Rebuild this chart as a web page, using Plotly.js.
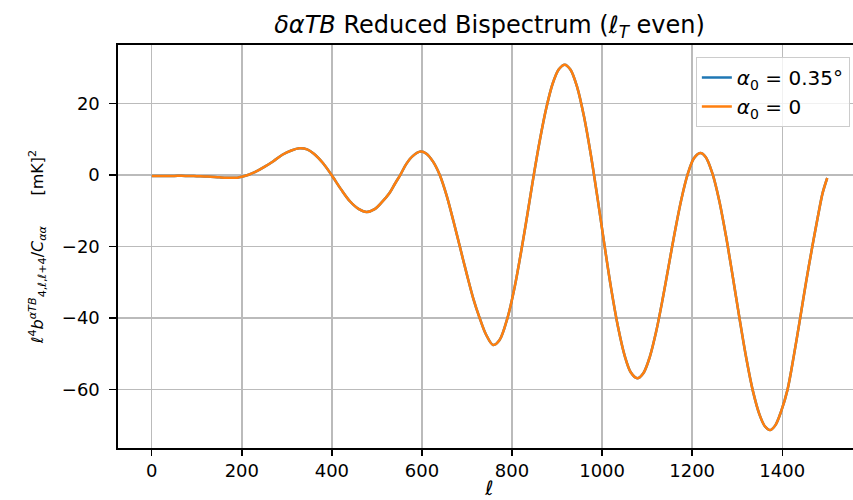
<!DOCTYPE html>
<html>
<head>
<meta charset="utf-8">
<script src="https://cdn.plot.ly/plotly-3.0.1.min.js"></script>
<style>
html, body { margin: 0; padding: 0; overflow: hidden; background: #ffffff; }
#chart { width: 870px; height: 500px; }
</style>
</head>
<body>
<div id="chart"></div>
<script>
// multipole ell
const ell = [0, 25, 50, 75, 100, 125, 150, 175, 190, 200, 215, 230, 250, 270, 290, 310, 328, 345, 360, 380,
  399, 420, 440, 460, 477, 495, 510, 528, 540, 552, 565, 580, 597, 610, 625, 640, 655, 670, 684, 700,
  714, 728, 742, 758, 772, 790, 806, 822, 835, 848, 862, 876, 890, 904, 917, 930, 945, 960, 975, 990,
  1005, 1020, 1035, 1050, 1064, 1078, 1092, 1106, 1120, 1134, 1148, 1162, 1176, 1190, 1204, 1218, 1230, 1245, 1260, 1275,
  1290, 1305, 1320, 1335, 1350, 1362, 1373, 1385, 1398, 1412, 1426, 1440, 1453, 1467, 1480, 1490, 1500];

// reduced bispectrum, alpha0 = 0.35 deg
const bAlpha035 = [-0.3, -0.3, -0.3, -0.3, -0.4, -0.5, -0.7, -0.85, -0.8, -0.55, 0.0, 0.8, 2.2, 3.8, 5.6, 6.8, 7.4, 7.1, 5.9, 3.3,
  0.0, -4.0, -7.4, -9.6, -10.4, -9.6, -7.8, -5.1, -2.5, 0.0, 3.0, 5.3, 6.5, 5.9, 3.6, -0.2, -5.9, -13.0, -20.0, -28.0,
  -34.6, -40.0, -44.6, -47.6, -46.3, -40.0, -31.3, -20.2, -10.4, -0.3, 9.8, 18.6, 25.4, 29.5, 30.8, 29.4, 24.4, 16.2, 5.6, -6.6,
  -19.4, -31.7, -42.3, -50.5, -55.3, -56.9, -55.4, -50.9, -43.9, -35.1, -25.4, -15.7, -6.9, 0.1, 4.6, 6.1, 5.0, 0.4, -7.1, -17.0,
  -28.3, -40.0, -51.1, -60.5, -67.2, -70.4, -71.4, -70.0, -66.0, -60.0, -50.5, -40.0, -30.0, -20.0, -11.2, -5.0, -0.9];

// reduced bispectrum, alpha0 = 0 (visually identical)
const bAlpha0 = [-0.3, -0.3, -0.3, -0.3, -0.4, -0.5, -0.7, -0.85, -0.8, -0.55, 0.0, 0.8, 2.2, 3.8, 5.6, 6.8, 7.4, 7.1, 5.9, 3.3,
  0.0, -4.0, -7.4, -9.6, -10.4, -9.6, -7.8, -5.1, -2.5, 0.0, 3.0, 5.3, 6.5, 5.9, 3.6, -0.2, -5.9, -13.0, -20.0, -28.0,
  -34.6, -40.0, -44.6, -47.6, -46.3, -40.0, -31.3, -20.2, -10.4, -0.3, 9.8, 18.6, 25.4, 29.5, 30.8, 29.4, 24.4, 16.2, 5.6, -6.6,
  -19.4, -31.7, -42.3, -50.5, -55.3, -56.9, -55.4, -50.9, -43.9, -35.1, -25.4, -15.7, -6.9, 0.1, 4.6, 6.1, 5.0, 0.4, -7.1, -17.0,
  -28.3, -40.0, -51.1, -60.5, -67.2, -70.4, -71.4, -70.0, -66.0, -60.0, -50.5, -40.0, -30.0, -20.0, -11.2, -5.0, -0.9];

const xTicks = [0, 200, 400, 600, 800, 1000, 1200, 1400];
const yTicks = [-60, -40, -20, 0, 20];
const seriesNames = ['<i>α</i><sub>0</sub> = 0.35°', '<i>α</i><sub>0</sub> = 0'];

const font = 'DejaVu Sans, Liberation Sans, sans-serif';

const traces = [
  { x: ell, y: bAlpha035, type: 'scatter', mode: 'lines', name: seriesNames[0],
    line: { color: '#1f77b4', width: 2.5, shape: 'spline', smoothing: 0.9 } },
  { x: ell, y: bAlpha0, type: 'scatter', mode: 'lines', name: seriesNames[1],
    line: { color: '#ff7f0e', width: 2.5, shape: 'spline', smoothing: 0.9 } }
];

const layout = {
  width: 870, height: 500,
  margin: { l: 118, r: 9, t: 45, b: 52 },
  paper_bgcolor: '#ffffff', plot_bgcolor: '#ffffff',
  font: { family: font, size: 18, color: '#000000' },
  title: {
    text: '<i>δαTB</i> Reduced Bispectrum (<i>ℓ</i><sub><i>T</i></sub> even)',
    font: { family: font, size: 24, color: '#000000' },
    x: 0.5, xref: 'paper', xanchor: 'center',
    y: 0.95, yref: 'container', yanchor: 'middle'
  },
  xaxis: {
    range: [-75, 1575], tickvals: xTicks, ticktext: xTicks.map(String),
    showgrid: true, gridcolor: '#bbbbbb', gridwidth: 1.4, zeroline: false,
    showline: true, linecolor: '#000000', linewidth: 1.6, mirror: true,
    ticks: 'outside', ticklen: 6, tickwidth: 1.4, tickcolor: '#000000',
    tickfont: { family: font, size: 18, color: '#000000' },
    title: { text: '<i>ℓ</i>', font: { family: font, size: 20, color: '#000000' }, standoff: 10 }
  },
  yaxis: {
    range: [-76.4, 36.3], tickvals: yTicks, ticktext: yTicks.map(v => v < 0 ? '−' + Math.abs(v) : String(v)),
    showgrid: true, gridcolor: '#bbbbbb', gridwidth: 1.4, zeroline: false,
    showline: true, linecolor: '#000000', linewidth: 1.6, mirror: true,
    ticks: 'outside', ticklen: 7, tickwidth: 1.4, tickcolor: '#000000',
    ticklabelstandoff: 6,
    tickfont: { family: font, size: 18, color: '#000000' },
    title: { text: '<i>ℓ</i><sup>4</sup><i>b</i><sup><i>αTB</i></sup><sub>4,<i>ℓ</i>,<i>ℓ</i>+4</sub>/<i>C</i><sub><i>αα</i></sub>      [mK]<sup>2</sup>',
             font: { family: font, size: 16, color: '#000000' }, standoff: 14 }
  },
  showlegend: true,
  legend: {
    x: 0.985, xanchor: 'right', y: 0.97, yanchor: 'top',
    bgcolor: 'rgba(255,255,255,0.8)', bordercolor: '#cccccc', borderwidth: 1,
    font: { family: font, size: 20, color: '#000000' }
  }
};

Plotly.newPlot('chart', traces, layout, { staticPlot: true, displayModeBar: false });
</script>
</body>
</html>
